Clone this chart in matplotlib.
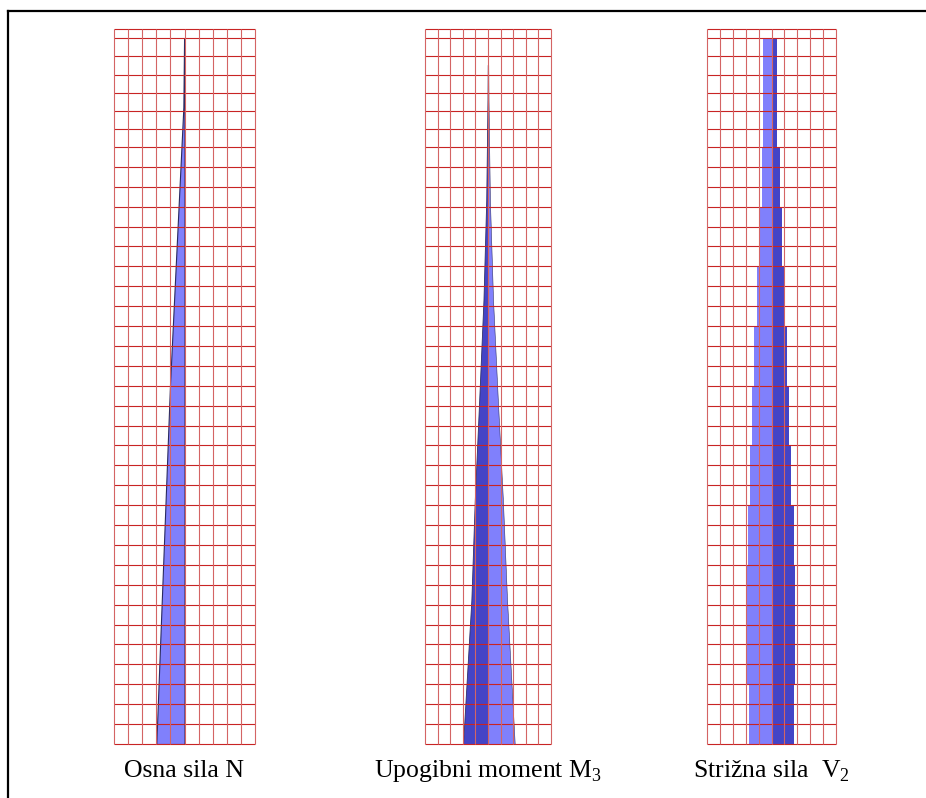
import numpy as np
import matplotlib.pyplot as plt
from matplotlib.lines import Line2D

plt.rcParams['font.family'] = ['Liberation Serif', 'DejaVu Serif']
plt.rcParams['mathtext.fontset'] = 'custom'
plt.rcParams['mathtext.rm'] = 'Liberation Serif'

# storey heights from the ground up (m): 30 lower + 6 upper storeys, then roof parapet
story_h = [3.3] * 30 + [3.0] * 6
parapet = 1.5
n_cols = 10

# axial force N (grid units) at elevations (m)
n_elev = [0.0, 60.0, 105.6, 117.0]
n_vals = [-2.0, -1.02, -0.08, -0.03]

# bending moment M3 (grid units), left and right halves
m_elev = [0.0, 23.9, 40.5, 57.0, 73.6, 90.2, 106.8, 112.6]
m_left = [-1.98, -1.32, -1.05, -0.70, -0.36, -0.14, -0.04, -0.02]
m_right = [2.12, 1.51, 1.18, 0.78, 0.40, 0.15, 0.04, 0.02]

# shear V2 (grid units), constant over groups of storeys, bottom group first
v_left = [-1.74, -1.94, -1.90, -1.81, -1.68, -1.55, -1.35, -1.16, -0.93, -0.70, -0.65]
v_right = [1.73, 1.86, 1.82, 1.71, 1.55, 1.36, 1.24, 1.03, 0.81, 0.64, 0.43]

titles = ['Osna sila N', r'Upogibni moment M$_\mathrm{3}$', r'Strižna sila  V$_\mathrm{2}$']

light = '#8080fc'
dark = '#4444c6'

levels = np.concatenate([[0.0], np.cumsum(story_h)])
top = levels[-1] + parapet
v_bounds = list(levels[0:31:3]) + [levels[-1]]

fig = plt.figure(figsize=(9.26, 7.98), dpi=100)
W, H = 926.0, 798.0

# panel boxes in pixels: left, right
boxes = [(114, 255), (425, 551), (707, 836)]
y_top, y_bot = 29.3, 744.0
axes = []
for x0, x1 in boxes:
    ax = fig.add_axes([x0 / W, (H - y_bot) / H, (x1 - x0) / W, (y_bot - y_top) / H])
    ax.set_xlim(-n_cols / 2, n_cols / 2)
    ax.set_ylim(0, top)
    ax.axis('off')
    ax.hlines(list(levels) + [top], -n_cols / 2, n_cols / 2, colors='#c82424', lw=0.8, zorder=3, clip_on=False)
    ax.vlines(np.arange(-n_cols / 2, n_cols / 2 + 1), 0, top, colors='#d46464', lw=0.8, zorder=3, clip_on=False)
    axes.append(ax)

# N
axes[0].fill_betweenx(n_elev, n_vals, 0, facecolor=light, edgecolor='#2a2a60', lw=0.8, zorder=2)

# M3
axes[1].fill_betweenx(m_elev, m_left, 0, facecolor=dark, edgecolor='#30306a', lw=0.6, zorder=2)
axes[1].fill_betweenx(m_elev, 0, m_right, facecolor=light, edgecolor='#30306a', lw=0.4, zorder=2)

# V2
heights = np.diff(v_bounds)
axes[2].barh(v_bounds[:-1], v_left, height=heights, align='edge', color=light, zorder=2)
axes[2].barh(v_bounds[:-1], v_right, height=heights, align='edge', color=dark, zorder=2)

for (x0, x1), t in zip(boxes, titles):
    fig.text((x0 + x1) / 2 / W, (H - 771) / H, t, ha='center', va='center', fontsize=18.5)

# page frame (top and left edges)
fig.add_artist(Line2D([7.5 / W, 1.0], [1 - 11 / H, 1 - 11 / H], color='black', lw=1.6, transform=fig.transFigure))
fig.add_artist(Line2D([7.5 / W, 7.5 / W], [0.0, 1 - 11 / H], color='black', lw=1.6, transform=fig.transFigure))

fig.savefig('out.png', dpi=100)
